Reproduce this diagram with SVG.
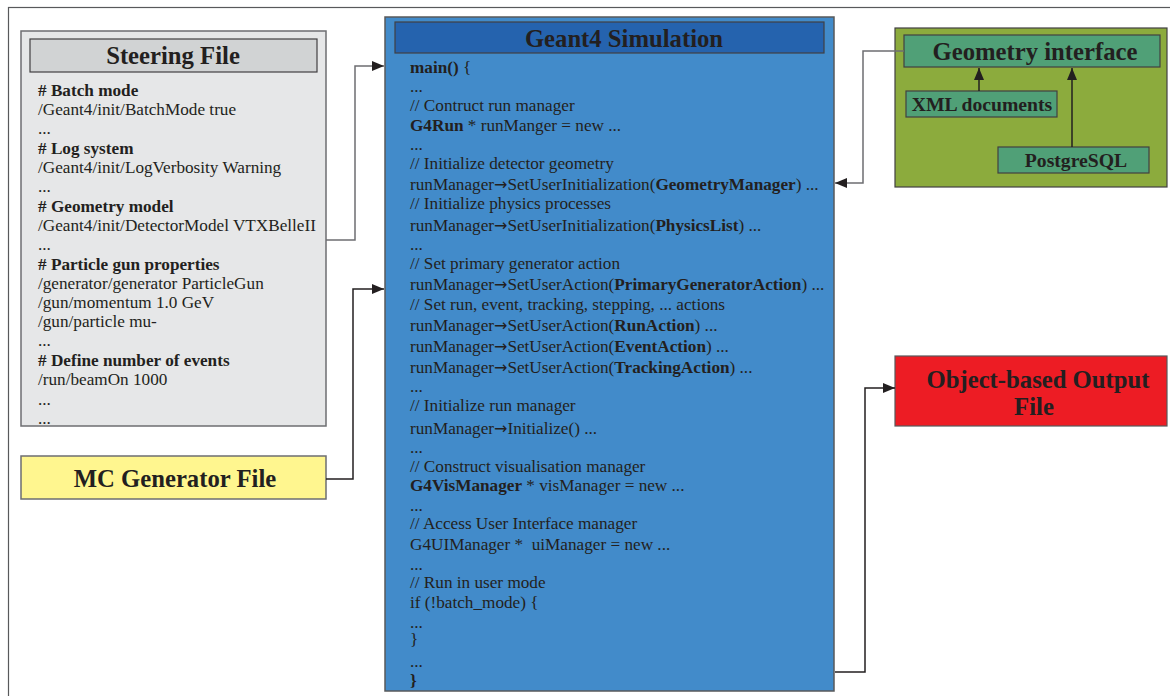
<svg xmlns="http://www.w3.org/2000/svg" width="1170" height="696" viewBox="0 0 1170 696">
<defs>
<marker id="arr" viewBox="0 0 12 10" refX="12" refY="5" markerWidth="12" markerHeight="10" markerUnits="userSpaceOnUse" orient="auto">
<path d="M0,0 L12,5 L0,10 Z" fill="#231f20"/>
</marker>
</defs>
<style>
.t{font-family:"Liberation Serif","Times New Roman",serif;fill:#231f20}
.code{font-size:17.2px}
.b{font-weight:bold}
.ar{font-family:"DejaVu Sans",sans-serif;font-size:16px}
.title{font-size:24.7px;font-weight:bold;text-anchor:middle}
.sub{font-size:19.7px;font-weight:bold;text-anchor:middle}
.conn{fill:none;stroke-width:1.5}
.g{stroke:#6d6e71}
.k{stroke:#231f20}
</style>
<rect x="8.5" y="7.5" width="1170" height="700" fill="#ffffff" stroke="#58595b" stroke-width="1.2"/>

<g id="steering">
<rect x="21" y="31" width="305" height="395" fill="#e6e7e8" stroke="#6d6e71" stroke-width="1.5"/>
<rect x="30" y="39" width="287" height="33" fill="#d1d3d4" stroke="#414042" stroke-width="1.2"/>
<text class="t title" x="173" y="64">Steering File</text>
<g class="t code">
<text x="38" y="96" class="b"># Batch mode</text>
<text x="38" y="115">/Geant4/init/BatchMode true</text>
<text x="38" y="134">...</text>
<text x="38" y="154" class="b"># Log system</text>
<text x="38" y="173">/Geant4/init/LogVerbosity Warning</text>
<text x="38" y="192">...</text>
<text x="38" y="212" class="b"># Geometry model</text>
<text x="38" y="231">/Geant4/init/DetectorModel VTXBelleII</text>
<text x="38" y="250">...</text>
<text x="38" y="270" class="b"># Particle gun properties</text>
<text x="38" y="289">/generator/generator ParticleGun</text>
<text x="38" y="308">/gun/momentum 1.0 GeV</text>
<text x="38" y="327">/gun/particle mu-</text>
<text x="38" y="346">...</text>
<text x="38" y="366" class="b"># Define number of events</text>
<text x="38" y="385">/run/beamOn 1000</text>
<text x="38" y="405">...</text>
<text x="38" y="424">...</text>
</g>
</g>

<g id="mcgen">
<rect x="21" y="456" width="305" height="43" fill="#fff68f" stroke="#6d6e71" stroke-width="1.5"/>
<text class="t title" x="175" y="487">MC Generator File</text>
</g>

<g id="geant4">
<rect x="385" y="17" width="449" height="674" fill="#428bca" stroke="#58595b" stroke-width="1.5"/>
<rect x="395" y="22" width="429" height="31" fill="#2563ae" stroke="#414042" stroke-width="1.2"/>
<text class="t title" x="624" y="47">Geant4 Simulation</text>
<g class="t code">
<text x="410" y="73"><tspan class="b">main()</tspan> {</text>
<text x="410" y="92">...</text>
<text x="410" y="111">// Contruct run manager</text>
<text x="410" y="131"><tspan class="b">G4Run</tspan> * runManger = new ...</text>
<text x="410" y="150">...</text>
<text x="410" y="169">// Initialize detector geometry</text>
<text x="410" y="190">runManager<tspan class="ar">→</tspan>SetUserInitialization(<tspan class="b">GeometryManager</tspan>) ...</text>
<text x="410" y="209">// Initialize physics processes</text>
<text x="410" y="231">runManager<tspan class="ar">→</tspan>SetUserInitialization(<tspan class="b">PhysicsList</tspan>) ...</text>
<text x="410" y="250">...</text>
<text x="410" y="269">// Set primary generator action</text>
<text x="410" y="290">runManager<tspan class="ar">→</tspan>SetUserAction(<tspan class="b">PrimaryGeneratorAction</tspan>) ...</text>
<text x="410" y="310">// Set run, event, tracking, stepping, ... actions</text>
<text x="410" y="331">runManager<tspan class="ar">→</tspan>SetUserAction(<tspan class="b">RunAction</tspan>) ...</text>
<text x="410" y="352">runManager<tspan class="ar">→</tspan>SetUserAction(<tspan class="b">EventAction</tspan>) ...</text>
<text x="410" y="373">runManager<tspan class="ar">→</tspan>SetUserAction(<tspan class="b">TrackingAction</tspan>) ...</text>
<text x="410" y="392">...</text>
<text x="410" y="411">// Initialize run manager</text>
<text x="410" y="434">runManager<tspan class="ar">→</tspan>Initialize() ...</text>
<text x="410" y="453">...</text>
<text x="410" y="472">// Construct visualisation manager</text>
<text x="410" y="491"><tspan class="b">G4VisManager</tspan> * visManager = new ...</text>
<text x="410" y="511">...</text>
<text x="410" y="529">// Access User Interface manager</text>
<text x="410" y="550" xml:space="preserve">G4UIManager *  uiManager = new ...</text>
<text x="410" y="570">...</text>
<text x="410" y="588">// Run in user mode</text>
<text x="410" y="608">if (!batch_mode) {</text>
<text x="410" y="628">...</text>
<text x="410" y="645">}</text>
<text x="410" y="667">...</text>
<text x="410" y="686" class="b">}</text>
</g>
</g>

<g id="geometry">
<rect x="895" y="28" width="272" height="159" fill="#8cab3d" stroke="#414042" stroke-width="1.2"/>
<rect x="904" y="35" width="256" height="32" fill="#50a077" stroke="#414042" stroke-width="1.2"/>
<text class="t title" x="1035" y="60">Geometry interface</text>
</g>

<g id="xml">
<rect x="906" y="91" width="151" height="26" fill="#50a077" stroke="#414042" stroke-width="1.2"/>
<text class="t sub" x="982" y="111">XML documents</text>
</g>

<g id="postgres">
<rect x="998" y="147" width="151" height="26" fill="#50a077" stroke="#414042" stroke-width="1.2"/>
<text class="t sub" x="1076" y="167">PostgreSQL</text>
</g>

<g id="output">
<rect x="895" y="356" width="272" height="70" fill="#ed1c24" stroke="#58595b" stroke-width="1.2"/>
<text class="t title" x="1038" y="388">Object-based Output</text>
<text class="t title" x="1034" y="415">File</text>
</g>

<g id="connectors">
<path class="conn g" d="M326,240 H355 V66 H384" marker-end="url(#arr)"/>
<path class="conn k" d="M326,479 H353 V289 H384" marker-end="url(#arr)"/>
<path class="conn g" d="M904,51 H863 V183 H835" marker-end="url(#arr)"/>
<path class="conn k" d="M979,91 V68" marker-end="url(#arr)"/>
<path class="conn k" d="M1072,147 V68" marker-end="url(#arr)"/>
<path class="conn k" d="M835,672 H865 V388 H895" marker-end="url(#arr)"/>
</g>
</svg>
